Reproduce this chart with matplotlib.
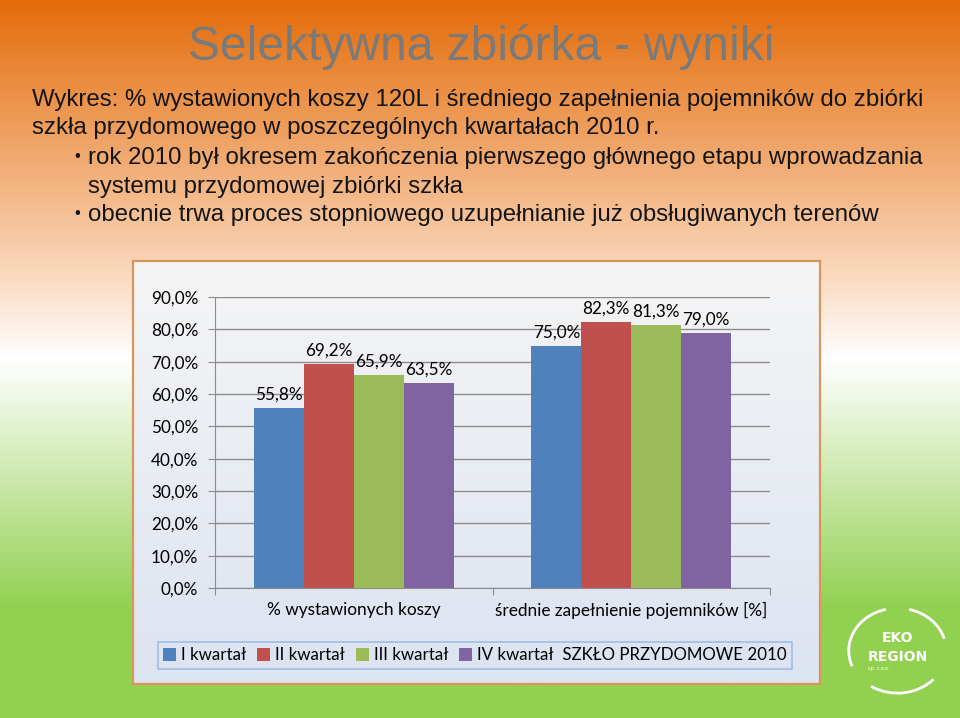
import numpy as np
import matplotlib
matplotlib.use("Agg")
import matplotlib.pyplot as plt
from matplotlib.colors import LinearSegmentedColormap
from matplotlib.patches import Arc

categories = ["% wystawionych koszy", "średnie zapełnienie pojemników [%]"]
series_names = ["I kwartał", "II kwartał", "III kwartał", "IV kwartał"]
q1 = [55.8, 75.0]
q2 = [69.2, 82.3]
q3 = [65.9, 81.3]
q4 = [63.5, 79.0]
yticks = [0, 10, 20, 30, 40, 50, 60, 70, 80, 90]
legend_title = "SZKŁO PRZYDOMOWE 2010"

colors = ["#4F81BD", "#C0504D", "#9BBB59", "#8064A2"]

W, H = 960, 718
fig = plt.figure(figsize=(W / 100, H / 100), dpi=100)

# slide background gradient
bg = fig.add_axes([0, 0, 1, 1], zorder=0)
bg_cmap = LinearSegmentedColormap.from_list(
    "bg", [(0.0, "#E46C0A"), (0.35, "#F8CFAE"), (0.50, "#FFFFFF"),
           (0.85, "#92D050"), (1.0, "#92D050")])
bg.imshow(np.linspace(0, 1, 256).reshape(-1, 1), aspect="auto", cmap=bg_cmap,
          extent=[0, 1, 0, 1], origin="upper")
bg.set_xlim(0, 1)
bg.set_ylim(0, 1)
bg.axis("off")

# chart box
box = [133 / W, 1 - 684 / H, 687 / W, 423 / H]
bx = fig.add_axes(box, zorder=1)
box_cmap = LinearSegmentedColormap.from_list("box", ["#F5F5F5", "#DCE3F1"])
bx.imshow(np.linspace(0, 1, 256).reshape(-1, 1), aspect="auto", cmap=box_cmap,
          extent=[0, 1, 0, 1], origin="upper")
bx.set_xticks([])
bx.set_yticks([])
for s in bx.spines.values():
    s.set_color("#D9955A")
    s.set_linewidth(1.6)

# bar chart
ax = fig.add_axes([215 / W, 1 - 588 / H, 555 / W, 291 / H], zorder=2)
ax.patch.set_alpha(0)
x = np.arange(len(categories))
w = 0.18
offsets = [-1.5 * w, -0.5 * w, 0.5 * w, 1.5 * w]
chart_font = "Lato"
for vals, name, c, off in zip([q1, q2, q3, q4], series_names, colors, offsets):
    # last legend entry also carries the chart title, like in the original
    lab = name + "  " + legend_title if name == series_names[-1] else name
    bars = ax.bar(x + off, vals, w, color=c, label=lab, zorder=3)
    for b, v in zip(bars, vals):
        ax.text(b.get_x() + b.get_width() / 2, v + 1.6, f"{v:.1f}%".replace(".", ","),
                ha="center", va="bottom", fontsize=12.3, family=chart_font, color="#000000")

ax.set_xlim(-0.5, 1.5)
ax.set_ylim(0, 90)
ax.set_yticks(yticks)
ax.set_yticklabels([f"{t:.1f}%".replace(".", ",") for t in yticks],
                   fontsize=12.3, family=chart_font)
ax.yaxis.grid(True, color="#8C8C8C", linewidth=1, zorder=0)
ax.set_xticks([-0.5, 0.5, 1.5])
ax.set_xticklabels([])
ax.set_xticks(x, minor=True)
ax.set_xticklabels(categories, minor=True, fontsize=12.4, family=chart_font)
ax.tick_params(axis="x", which="minor", length=0, pad=10)
ax.tick_params(axis="x", which="major", length=5, color="#8C8C8C", direction="out")
ax.tick_params(axis="y", length=5, color="#8C8C8C", pad=7)
for s in ["top", "right"]:
    ax.spines[s].set_visible(False)
for s in ["left", "bottom"]:
    ax.spines[s].set_color("#8C8C8C")

leg = fig.legend(loc="center", ncol=4,
                 bbox_to_anchor=(475 / W, 1 - 655.5 / H),
                 prop={"family": chart_font, "size": 12.2},
                 frameon=True, fancybox=False, handlelength=0.75, handleheight=0.75,
                 handletextpad=0.3, columnspacing=0.65, borderpad=0.3)
leg.get_frame().set_edgecolor("#8EB4E3")
leg.get_frame().set_facecolor("none")
leg.get_frame().set_linewidth(1.2)
leg.set_zorder(5)

# slide texts
fig.text(481 / W, 1 - 47 / H, "Selektywna zbiórka - wyniki", ha="center", va="center",
         fontsize=34.5, family="Liberation Sans", color="#7A7A7A")
body = dict(fontsize=17.3, family="Liberation Sans", color="#141414", va="center")
fig.text(32 / W, 1 - 100 / H,
         "Wykres: % wystawionych koszy 120L i średniego zapełnienia pojemników do zbiórki", **body)
fig.text(32 / W, 1 - 128 / H, "szkła przydomowego w poszczególnych kwartałach 2010 r.", **body)
fig.text(74 / W, 1 - 157 / H, "•", fontsize=12, family="Liberation Sans", color="#141414",
         va="center")
fig.text(88 / W, 1 - 158 / H,
         "rok 2010 był okresem zakończenia pierwszego głównego etapu wprowadzania", **body)
fig.text(88 / W, 1 - 187 / H, "systemu przydomowej zbiórki szkła", **body)
fig.text(74 / W, 1 - 214 / H, "•", fontsize=12, family="Liberation Sans", color="#141414",
         va="center")
fig.text(88 / W, 1 - 215 / H,
         "obecnie trwa proces stopniowego uzupełnianie już obsługiwanych terenów", **body)

# logo
lg = fig.add_axes([835 / W, 1 - 712 / H, 125 / W, 118 / H], zorder=3)
lg.set_xlim(0, 1)
lg.set_ylim(0, 1)
lg.axis("off")
lg.add_patch(Arc((0.5, 0.52), 0.78, 0.72, theta1=105, theta2=200, color="white", lw=2))
lg.add_patch(Arc((0.5, 0.52), 0.78, 0.72, theta1=235, theta2=320, color="white", lw=2))
lg.add_patch(Arc((0.5, 0.52), 0.78, 0.72, theta1=15, theta2=75, color="white", lw=2))
lg.text(0.5, 0.63, "EKO", ha="center", va="center", color="white", fontsize=10,
        fontweight="bold", family="DejaVu Sans")
lg.text(0.5, 0.47, "REGION", ha="center", va="center", color="white", fontsize=10,
        fontweight="bold", family="DejaVu Sans")
lg.text(0.26, 0.37, "sp. z o.o.", ha="left", va="center", color="white", fontsize=3.5,
        family="DejaVu Sans")

fig.savefig("out.png", dpi=100)
